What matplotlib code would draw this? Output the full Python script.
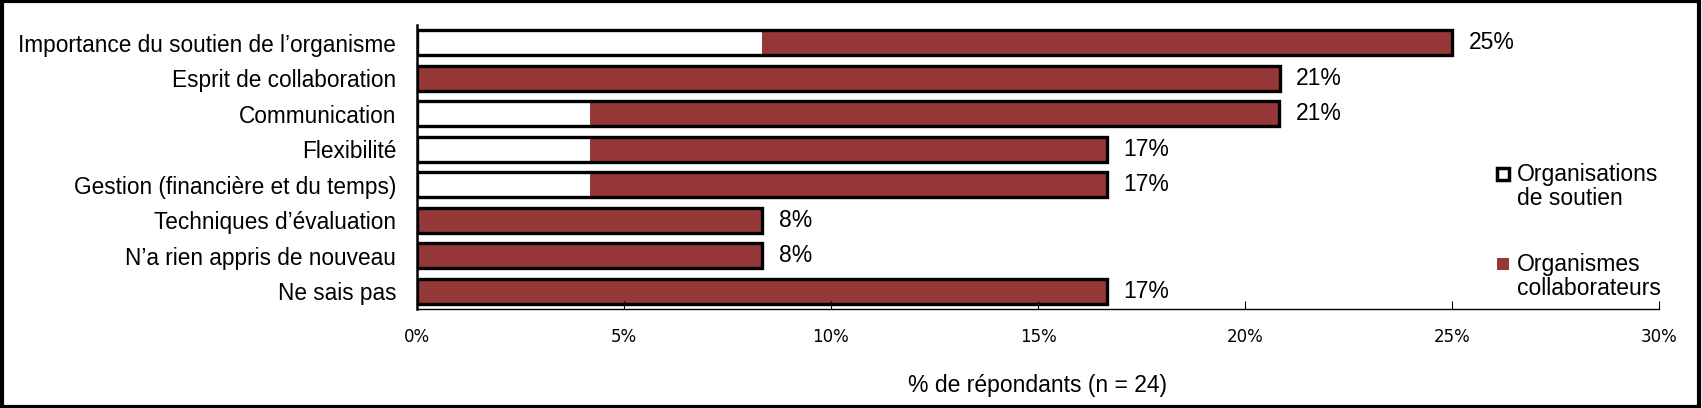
import numpy as np
import matplotlib.pyplot as plt
from matplotlib.patches import Rectangle
from matplotlib.ticker import PercentFormatter

plt.rcParams['font.family'] = ['Liberation Sans', 'DejaVu Sans']

# data (n = 24 respondents)
categories = ["Importance du soutien de l\u2019organisme", "Esprit de collaboration",
              "Communication", "Flexibilit\u00e9", "Gestion (financi\u00e8re et du temps)",
              "Techniques d\u2019\u00e9valuation", "N\u2019a rien appris de nouveau", "Ne sais pas"]
soutien = np.array([2, 0, 1, 1, 1, 0, 0, 0]) / 24 * 100
collab = np.array([4, 5, 4, 3, 3, 2, 2, 4]) / 24 * 100
labels = ["Organisations\nde soutien", "Organismes\ncollaborateurs"]

red = "#963838"
fs = 16.3

W, H = 1702, 408
fig = plt.figure(figsize=(W / 100, H / 100), dpi=100)
ax = fig.add_axes([417 / W, 1 - 309 / H, (1659 - 417) / W, (309 - 25) / H])

y = np.arange(len(categories))
h = 0.7
ax.barh(y, soutien, height=h, color="white", edgecolor="none")
ax.barh(y, collab, left=soutien, height=h, color=red, edgecolor="none")
# thick outline around the whole bar
total = soutien + collab
ax.barh(y, total, height=h, color="none", edgecolor="black", linewidth=2.4)

for yi, t in zip(y, total):
    ax.text(t + 0.4, yi, f"{t:.0f}%", va="center", ha="left", fontsize=16.5)

ax.set_ylim(len(categories) - 0.5, -0.5)
ax.set_xlim(0, 30)
ax.set_xticks(np.arange(0, 31, 5))
ax.xaxis.set_major_formatter(PercentFormatter(decimals=0))
ax.set_yticks(y)
ax.set_yticklabels(categories, fontsize=fs)
ax.tick_params(axis="y", length=0, pad=15)
ax.tick_params(axis="x", direction="in", length=6, labelsize=12, pad=14)
for lab in ax.get_xticklabels():
    lab.set_family("DejaVu Sans")
ax.spines["top"].set_visible(False)
ax.spines["right"].set_visible(False)
ax.spines["left"].set_linewidth(1.8)
ax.spines["bottom"].set_linewidth(1)
ax.set_xlabel("% de r\u00e9pondants (n = 24)", fontsize=16.5, labelpad=20)

# legend, Excel style: square aligned with first line of the label
leg_y = [174, 264]
leg_face = ["white", red]
leg_edge = ["black", "none"]
for ly, lab, fc, ec in zip(leg_y, labels, leg_face, leg_edge):
    s = 12
    fig.patches.append(Rectangle(((1503 - s / 2) / W, 1 - (ly + s / 2) / H), s / W, s / H,
                                 transform=fig.transFigure, facecolor=fc, edgecolor=ec,
                                 linewidth=2.5))
    fig.text(1517 / W, 1 - (ly - 11) / H, lab, fontsize=16.5, va="top", ha="left",
             linespacing=1.05)

# outer border
fig.patches.append(Rectangle((0.001, 0.002), 0.997, 0.995, transform=fig.transFigure,
                             fill=False, edgecolor="black", linewidth=3))

fig.savefig("out.png", dpi=100)
